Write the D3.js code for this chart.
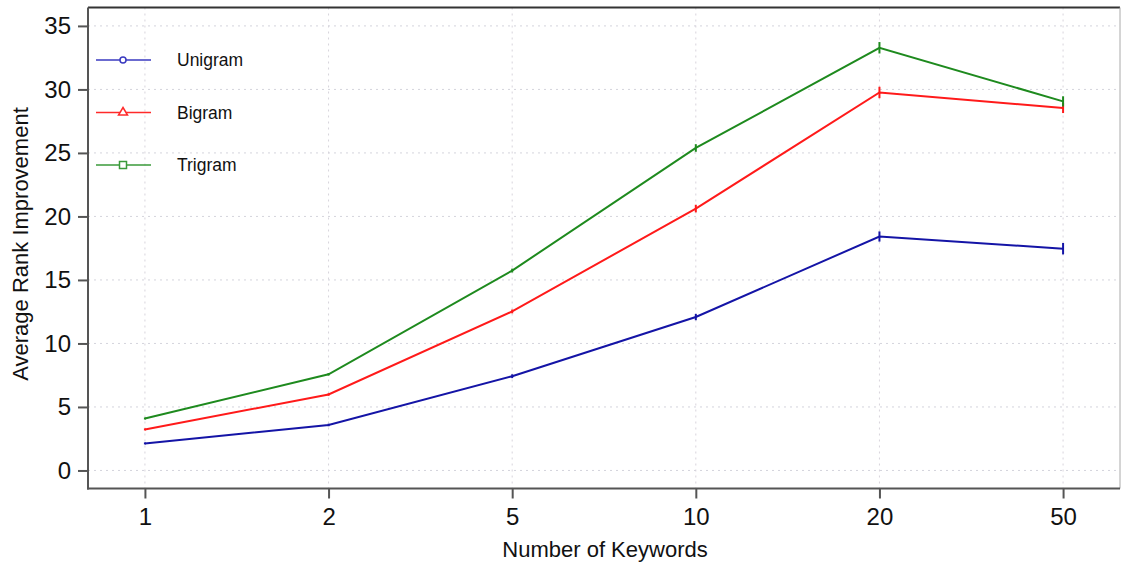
<!DOCTYPE html>
<html>
<head>
<meta charset="utf-8">
<script src="https://cdn.jsdelivr.net/npm/d3@7/dist/d3.min.js"></script>
<style>
  html, body { margin: 0; padding: 0; background: #fff; }
  svg { display: block; font-family: "Liberation Sans", Arial, Helvetica, sans-serif; }
</style>
</head>
<body>
<svg id="chart" width="1121" height="564"></svg>
<script>
// Number of keywords on the x axis (categorical)
const keywords = ["1", "2", "5", "10", "20", "50"];

// Average rank improvement per n-gram model
const unigram = [2.13, 3.58, 7.42, 12.08, 18.42, 17.46];
const bigram  = [3.23, 5.98, 12.52, 20.62, 29.76, 28.54];
const trigram = [4.09, 7.57, 15.74, 25.39, 33.28, 29.06];

// Half-width of the error bars
const unigramErr = [0.08, 0.1, 0.15, 0.25, 0.4, 0.45];
const bigramErr  = [0.08, 0.1, 0.15, 0.3, 0.45, 0.4];
const trigramErr = [0.08, 0.1, 0.15, 0.3, 0.45, 0.4];

const seriesNames = ["Unigram", "Bigram", "Trigram"];
const yTicks = [0, 5, 10, 15, 20, 25, 30, 35];

const series = [
  { name: seriesNames[0], values: unigram, err: unigramErr, color: "#1414a6", legendColor: "#3a3ac0", marker: "circle" },
  { name: seriesNames[1], values: bigram,  err: bigramErr,  color: "#ff1a1a", legendColor: "#ff2a2a", marker: "triangle" },
  { name: seriesNames[2], values: trigram, err: trigramErr, color: "#1e8a1e", legendColor: "#3a9a3a", marker: "square" }
];

const svg = d3.select("#chart");
const plotLeft = 88, plotRight = 1120, plotTop = 7.5, plotBottom = 488.5;

const x = d3.scalePoint().domain(keywords).range([plotLeft, plotRight]).padding(0.31);
const y = d3.scaleLinear().domain([-1.42, 36.45]).range([plotBottom, plotTop]);

// dotted grid
const grid = svg.append("g");
grid.selectAll("line.h").data(yTicks).join("line")
  .attr("x1", plotLeft).attr("x2", plotRight)
  .attr("y1", d => y(d)).attr("y2", d => y(d))
  .attr("stroke", "#d4d4dc").attr("stroke-width", 1).attr("stroke-dasharray", "2,4");
grid.selectAll("line.v").data(keywords).join("line")
  .attr("y1", plotTop).attr("y2", plotBottom)
  .attr("x1", d => x(d)).attr("x2", d => x(d))
  .attr("stroke", "#d8d4dc").attr("stroke-width", 1).attr("stroke-dasharray", "2,4");

// frame: top dark, right light
svg.append("line").attr("x1", plotLeft).attr("x2", plotRight).attr("y1", plotTop).attr("y2", plotTop)
  .attr("stroke", "#333").attr("stroke-width", 2);
svg.append("line").attr("x1", plotRight).attr("x2", plotRight).attr("y1", plotTop).attr("y2", plotBottom)
  .attr("stroke", "#aaa").attr("stroke-width", 1);

// axes
const xAxis = svg.append("g").attr("transform", `translate(0,${plotBottom})`)
  .call(d3.axisBottom(x).tickSize(10).tickPadding(9).tickSizeOuter(0));
const yAxis = svg.append("g").attr("transform", `translate(${plotLeft},0)`)
  .call(d3.axisLeft(y).tickValues(yTicks).tickSize(10).tickPadding(7).tickSizeOuter(0));
[xAxis, yAxis].forEach(g => {
  g.select(".domain").attr("stroke", "#555").attr("stroke-width", 2);
  g.selectAll(".tick line").attr("stroke", "#555").attr("stroke-width", 2);
  g.selectAll(".tick text").attr("fill", "#111").style("font-size", "24px")
    .style("font-family", "'Liberation Sans', Arial, Helvetica, sans-serif");
});
// extend domains to the frame corners
xAxis.select(".domain").attr("d", `M${plotLeft - 1},0H${plotRight}`);
yAxis.select(".domain").attr("d", `M0,${plotTop}V${plotBottom + 1}`);

// lines and error bars
const line = d3.line().x((d, i) => x(keywords[i])).y(d => y(d));
series.forEach(s => {
  svg.append("path").datum(s.values)
    .attr("d", line).attr("fill", "none")
    .attr("stroke", s.color).attr("stroke-width", 2);
  svg.append("g").selectAll("line").data(s.values).join("line")
    .attr("x1", (d, i) => x(keywords[i])).attr("x2", (d, i) => x(keywords[i]))
    .attr("y1", (d, i) => y(d - s.err[i])).attr("y2", (d, i) => y(d + s.err[i]))
    .attr("stroke", s.color).attr("stroke-width", 2);
});

// legend
const legendY = d3.scaleLinear().domain([0, 1]).range([60, 112.5]);
series.forEach((s, i) => {
  const g = svg.append("g").attr("transform", `translate(0,${legendY(i)})`);
  g.append("line").attr("x1", 96).attr("x2", 151).attr("y1", 0).attr("y2", 0)
    .attr("stroke", s.legendColor).attr("stroke-width", 1.5);
  if (s.marker === "circle") {
    g.append("circle").attr("cx", 123).attr("cy", 0).attr("r", 3)
      .attr("fill", "#fff").attr("stroke", s.legendColor).attr("stroke-width", 1.5);
  } else if (s.marker === "triangle") {
    g.append("path").attr("d", "M123,-5L127.5,2.5L118.5,2.5Z")
      .attr("fill", "#fff").attr("stroke", s.legendColor).attr("stroke-width", 1.5);
  } else {
    g.append("rect").attr("x", 119.5).attr("y", -3.5).attr("width", 7).attr("height", 7)
      .attr("fill", "#fff").attr("stroke", s.legendColor).attr("stroke-width", 1.5);
  }
  g.append("text").attr("x", 177).attr("y", 6).attr("fill", "#111")
    .style("font-size", "17.5px").text(s.name);
});

// axis titles
svg.append("text").attr("x", 605).attr("y", 557).attr("text-anchor", "middle")
  .attr("fill", "#111").style("font-size", "22px").text("Number of Keywords");
svg.append("text").attr("transform", "translate(28,244) rotate(-90)")
  .attr("text-anchor", "middle").attr("fill", "#111").style("font-size", "22px")
  .text("Average Rank Improvement");
</script>
</body>
</html>
